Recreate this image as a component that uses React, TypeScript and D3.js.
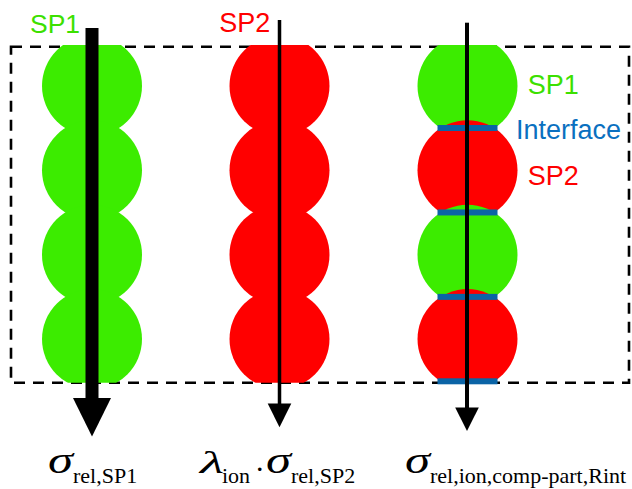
import React from "react";
import * as d3 from "d3";

// ---- data ----
const columnIds = ["SP1 only", "SP2 only", "composite"];
const column1Beads = ["SP1", "SP1", "SP1", "SP1"];
const column2Beads = ["SP2", "SP2", "SP2", "SP2"];
const column3Beads = ["SP1", "SP2", "SP1", "SP2"];
const interfacePositions = [0.5, 1.5, 2.5, 3.5];
const topLabels = ["SP1", "SP2"];
const sideLabels = ["SP1", "Interface", "SP2"];
const beadColors: Record<string, string> = { SP1: "#3cec00", SP2: "#ff0000" };

const W = 632;
const H = 489;

export default function App() {
  const x = d3.scalePoint<string>().domain(columnIds).range([92, 467]).padding(0);
  const y = d3.scaleLinear().domain([0, 3]).range([85.8, 339.1]);
  const columns = [column1Beads, column2Beads, column3Beads];
  const R = 50;
  const sans = "'Liberation Sans', Arial, sans-serif";
  const serif = "'Liberation Serif', 'Times New Roman', serif";

  const arrowSpecs = [
    { id: columnIds[0], top: 28, width: 13, base: 398, tip: 436.5, half: 19 },
    { id: columnIds[1], top: 20, width: 3.5, base: 403.5, tip: 427.3, half: 11.8 },
    { id: columnIds[2], top: 22.7, width: 4, base: 407.5, tip: 431, half: 11.8 },
  ];

  return (
    <svg
      width={W}
      height={H}
      style={{ position: "absolute", left: 0, top: 0, background: "#fff" }}
    >
      <defs>
        <clipPath id="beadClip">
          <rect x={0} y={45} width={W} height={337.7} />
        </clipPath>
      </defs>
      <rect
        x={11}
        y={46.7}
        width={618}
        height={336}
        fill="none"
        stroke="#000"
        strokeWidth={2.6}
        strokeDasharray="11,8"
      />
      <g clipPath="url(#beadClip)">
        {columns.map((beads, ci) =>
          beads.map((b, i) => (
            <circle
              key={`${ci}-${i}`}
              cx={x(columnIds[ci])! + (ci === 2 ? 0.5 : 0)}
              cy={y(i)}
              r={R}
              fill={beadColors[b]}
            />
          ))
        )}
      </g>
      {interfacePositions.map((p, i) => (
        <rect
          key={`if-${i}`}
          x={x(columnIds[2])! + 0.5 - 30}
          y={Math.min(y(p), 381.3) - 3}
          width={60}
          height={6}
          fill="#0b64a6"
        />
      ))}
      {arrowSpecs.map((a) => {
        const cx = x(a.id)!;
        return (
          <g key={a.id}>
            <rect x={cx - a.width / 2} y={a.top} width={a.width} height={a.base - a.top + 1} fill="#000" />
            <path
              d={`M${cx - a.half},${a.base} L${cx + a.half},${a.base} L${cx},${a.tip} Z`}
              fill="#000"
            />
          </g>
        );
      })}
      <text x={30} y={33.3} fontFamily={sans} fontSize={26.5} fill="#3ce000">
        {topLabels[0]}
      </text>
      <text x={219.3} y={31.7} fontFamily={sans} fontSize={27} fill="#ff0000">
        {topLabels[1]}
      </text>
      <text x={527.7} y={94.3} fontFamily={sans} fontSize={27} fill="#3ce000">
        {sideLabels[0]}
      </text>
      <text x={516} y={139} fontFamily={sans} fontSize={27} fill="#0a70c0">
        {sideLabels[1]}
      </text>
      <text x={527.7} y={185} fontFamily={sans} fontSize={27} fill="#ff0000">
        {sideLabels[2]}
      </text>

      {/* bottom formula labels */}
      <g fontFamily={serif} fill="#000">
        <text x={48} y={473.3} fontSize={37} fontStyle="italic" textLength={25} lengthAdjust="spacingAndGlyphs">σ</text>
        <text x={73} y={482.7} fontSize={22}>rel,SP1</text>

        <text x={200} y={473} fontSize={31} fontStyle="italic" textLength={24} lengthAdjust="spacingAndGlyphs">λ</text>
        <text x={222} y={482.7} fontSize={22}>ion</text>
        <text x={256} y={470.5} fontSize={30}>.</text>
        <text x={266} y={473.3} fontSize={37} fontStyle="italic" textLength={25} lengthAdjust="spacingAndGlyphs">σ</text>
        <text x={291} y={482.7} fontSize={22}>rel,SP2</text>

        <text x={405} y={473.3} fontSize={37} fontStyle="italic" textLength={25} lengthAdjust="spacingAndGlyphs">σ</text>
        <text x={430} y={482.7} fontSize={22}>rel,ion,comp-part,Rint</text>
      </g>
    </svg>
  );
}
